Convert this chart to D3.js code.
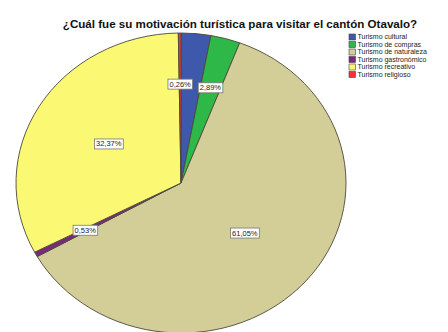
<!DOCTYPE html>
<html>
<head>
<meta charset="utf-8">
<script src="https://cdn.jsdelivr.net/npm/d3@7"></script>
<style>
  html, body { margin: 0; padding: 0; background: #fff; }
  svg { display: block; font-family: "Liberation Sans", Arial, sans-serif; }
</style>
</head>
<body>
<svg id="chart" width="448" height="332"></svg>
<script>
// Motivación turística – porcentajes por categoría
const categories = [
  "Turismo cultural",
  "Turismo de compras",
  "Turismo de naturaleza",
  "Turismo gastronómico",
  "Turismo recreativo",
  "Turismo religioso"
];
const percentages = [2.90, 2.89, 61.05, 0.53, 32.37, 0.26];
// Etiquetas que se muestran sobre cada sector (el cultural no lleva etiqueta)
const showLabel = [false, true, true, true, true, true];
const colors = ["#3E58AC", "#2EB848", "#D3CE97", "#7C287D", "#FBF873", "#EF3338"];
const title = "¿Cuál fue su motivación turística para visitar el cantón Otavalo?";

const svg = d3.select("#chart");

// Geometría del pastel (ligeramente elíptico)
const cx = 181, cy = 183, rx = 165, ry = 150;
const yScale = ry / rx;

const data = categories.map((c, i) => ({ cat: c, value: percentages[i], label: showLabel[i] }));

const pie = d3.pie().sort(null).value(d => d.value).startAngle(0).endAngle(2 * Math.PI);
const arcs = pie(data);
const arc = d3.arc().innerRadius(0).outerRadius(rx);

const color = d3.scaleOrdinal().domain(categories).range(colors);
const fmt = v => d3.format(".2f")(v).replace(".", ",") + "%";

// Sectores
const pieG = svg.append("g")
  .attr("transform", `translate(${cx},${cy}) scale(1,${yScale})`);

pieG.selectAll("path")
  .data(arcs)
  .join("path")
  .attr("d", arc)
  .attr("fill", d => color(d.data.cat))
  .attr("stroke", "#4a4a3a")
  .attr("stroke-width", 0.9)
  .attr("vector-effect", "non-scaling-stroke");

// Etiquetas de porcentaje: sectores pequeños más hacia el borde
const labelG = svg.append("g");
arcs.filter(d => d.data.label).forEach(d => {
  const mid = (d.startAngle + d.endAngle) / 2;
  const frac = d.data.value < 5 ? 0.66 : 0.51;
  const x = cx + Math.sin(mid) * rx * frac;
  const y = cy - Math.cos(mid) * rx * frac * yScale;
  const g = labelG.append("g").attr("transform", `translate(${x},${y})`);
  const t = g.append("text")
    .attr("text-anchor", "middle")
    .attr("dy", "0.35em")
    .attr("font-size", 7.5)
    .attr("fill", "#222")
    .text(fmt(d.data.value));
  const bb = t.node().getBBox();
  g.insert("rect", "text")
    .attr("x", bb.x - 1.5)
    .attr("y", bb.y - 0.5)
    .attr("width", bb.width + 3)
    .attr("height", bb.height + 1)
    .attr("fill", "#fff")
    .attr("stroke", "#777")
    .attr("stroke-width", 0.8);
});

// Título
svg.append("text")
  .attr("x", 240)
  .attr("y", 27.5)
  .attr("text-anchor", "middle")
  .attr("font-size", 11.6)
  .attr("font-weight", "bold")
  .attr("fill", "#111")
  .text(title);

// Leyenda
const legend = svg.append("g").attr("transform", "translate(349,34)");
const rowH = 7.5;
const rows = legend.selectAll("g")
  .data(categories)
  .join("g")
  .attr("transform", (d, i) => `translate(0,${i * rowH})`);
rows.append("rect")
  .attr("width", 6.5)
  .attr("height", 6)
  .attr("fill", d => color(d))
  .attr("stroke", "#444")
  .attr("stroke-width", 0.6);
rows.append("text")
  .attr("x", 8.5)
  .attr("y", 3)
  .attr("dy", "0.35em")
  .attr("font-size", 7)
  .attr("fill", "#222")
  .text(d => d);
</script>
</body>
</html>
